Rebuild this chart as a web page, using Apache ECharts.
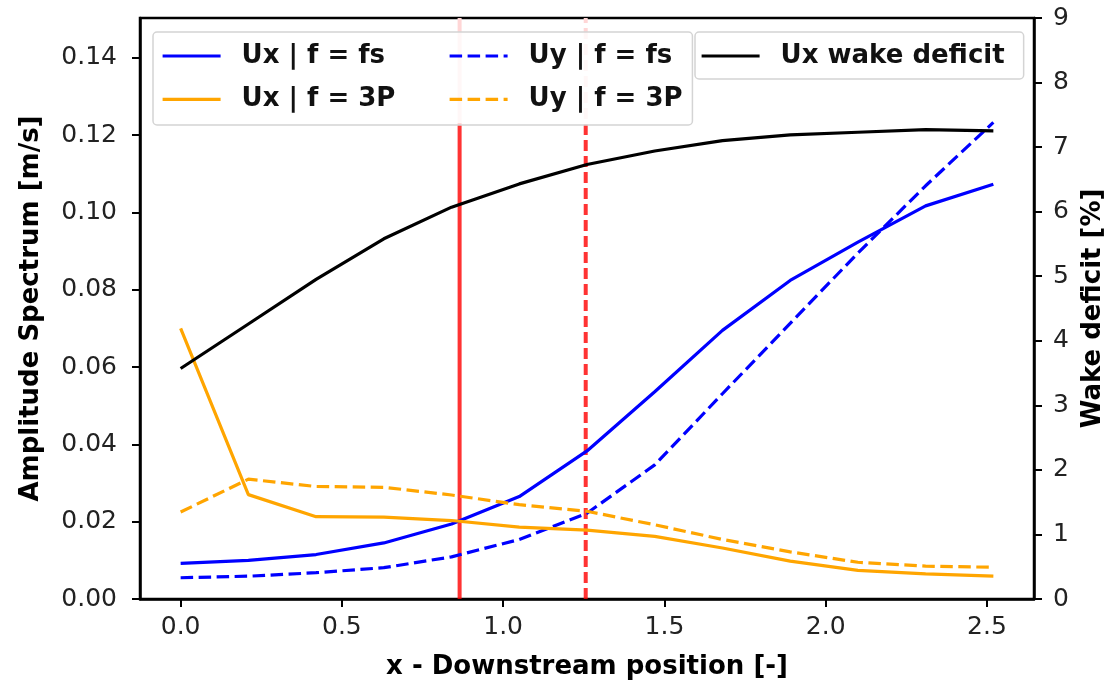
<!DOCTYPE html>
<html>
<head>
<meta charset="utf-8">
<script src="https://cdn.jsdelivr.net/npm/echarts@6/dist/echarts.min.js"></script>
<style>
html,body{margin:0;padding:0;background:#fff;}
#chart{width:1116px;height:685px;}
</style>
</head>
<body>
<div id="chart"></div>
<script>
// ---- data ----
var xPos   = [0, 0.21, 0.42, 0.63, 0.84, 1.05, 1.26, 1.47, 1.68, 1.89, 2.10, 2.31, 2.52];
var uxFs   = [0.0092, 0.0100, 0.0115, 0.0145, 0.0194, 0.0265, 0.0383, 0.0536, 0.0695, 0.0824, 0.0923, 0.1017, 0.1073];
var uyFs   = [0.0055, 0.0059, 0.0068, 0.0081, 0.0109, 0.0154, 0.0222, 0.0347, 0.0531, 0.0713, 0.0895, 0.1069, 0.1233];
var ux3P   = [0.0700, 0.0270, 0.0213, 0.0212, 0.0203, 0.0186, 0.0178, 0.0162, 0.0132, 0.0098, 0.0074, 0.0065, 0.0059];
var uy3P   = [0.0225, 0.0310, 0.0291, 0.0289, 0.0269, 0.0244, 0.0227, 0.0192, 0.0154, 0.0122, 0.0095, 0.0085, 0.0082];
var wakeDeficit = [3.57, 4.26, 4.95, 5.58, 6.07, 6.43, 6.73, 6.94, 7.10, 7.19, 7.23, 7.27, 7.25];
var vLines = [0.865, 1.256];
var xTicks = [0, 0.5, 1.0, 1.5, 2.0, 2.5];
var yLeftTicks = [0, 0.02, 0.04, 0.06, 0.08, 0.10, 0.12, 0.14];
var Y_MAX = 0.1503;

var names = ['Ux | f = fs', 'Uy | f = fs', 'Ux | f = 3P', 'Uy | f = 3P', 'Ux wake deficit'];

function pairs(ys){ return xPos.map(function(x,i){ return [x, ys[i]]; }); }

var FONT = 'DejaVu Sans';
var DASH = [12.5, 5.5];
var LW = 3.2;

var chart = echarts.init(document.getElementById('chart'), null, {renderer:'canvas'});

var legendText = {fontFamily: FONT, fontSize: 26, fontWeight: 'bold', color: '#111', lineHeight: 30, padding: [0,0,0,16]};
function mkLegend(left, data, extra){
  var o = {
    orient: 'vertical', left: left, top: 41, padding: 0,
    itemWidth: 58, itemHeight: 2, itemGap: 13.4,
    itemStyle: {opacity: 0},
    lineStyle: {width: LW},
    textStyle: legendText, data: data, selectedMode: false, z: 120
  };
  for (var k in extra) o[k] = extra[k];
  return o;
}
var boxStyle = {backgroundColor: 'rgba(255,255,255,0.8)', borderColor: '#d4d4d4', borderWidth: 1.5, borderRadius: 4};

// red reference lines: pale where they pass behind the semi-transparent legend box
var redStroke = new echarts.graphic.LinearGradient(0, 0, 0, 1, [
  {offset: 0, color: '#ffd6d6'}, {offset: 0.1835, color: '#ffd6d6'},
  {offset: 0.1836, color: 'rgba(255,0,0,0.8)'}, {offset: 1, color: 'rgba(255,0,0,0.8)'}
]);
function vline(x, type){
  return {type: 'line', yAxisIndex: 0, data: [[x, 0], [x, Y_MAX]], symbol: 'none', silent: true, z: 1,
          lineStyle: {color: redStroke, width: 4, type: type}};
}

var option = {
  animation: false,
  backgroundColor: '#fff',
  grid: {left: 140, right: 82, top: 18, bottom: 84, show: true, borderColor: '#000', borderWidth: 2.5, backgroundColor: 'transparent'},
  legend: [
    mkLegend(153, [names[0], names[2]], Object.assign({top: 32, padding: [9, 297, 10.6, 8], z: 100}, boxStyle)),
    mkLegend(448, [names[1], names[3]], {z: 130}),
    mkLegend(695, [names[4]], Object.assign({top: 32, padding: [9, 19, 8, 5], z: 130}, boxStyle))
  ],
  xAxis: {
    type: 'value', min: -0.126, max: 2.646,
    name: 'x - Downstream position [-]', nameLocation: 'middle', nameGap: 55,
    nameTextStyle: {fontFamily: FONT, fontSize: 26, fontWeight: 'bold', color: '#000'},
    axisLine: {show: true, onZero: false, lineStyle: {color: '#000', width: 2.5}},
    axisTick: {show: true, length: 8, lineStyle: {color: '#000', width: 2}, customValues: xTicks},
    axisLabel: {fontFamily: FONT, fontSize: 25, color: '#222', margin: 16, customValues: xTicks,
      formatter: function(v){ return v.toFixed(1); }},
    splitLine: {show: false}
  },
  yAxis: [
    {
      type: 'value', min: 0, max: Y_MAX, position: 'left',
      name: 'Amplitude Spectrum [m/s]', nameLocation: 'middle', nameGap: 96, nameRotate: 90,
      nameTextStyle: {fontFamily: FONT, fontSize: 26, fontWeight: 'bold', color: '#000'},
      axisLine: {show: true, onZero: false, lineStyle: {color: '#000', width: 2.5}},
      axisTick: {show: true, length: 8, lineStyle: {color: '#000', width: 2}, customValues: yLeftTicks},
      axisLabel: {fontFamily: FONT, fontSize: 25, color: '#222', margin: 23, customValues: yLeftTicks,
        formatter: function(v){ return v.toFixed(2); }},
      splitLine: {show: false}
    },
    {
      type: 'value', min: 0, max: 9, interval: 1, position: 'right',
      name: 'Wake deficit [%]', nameLocation: 'middle', nameGap: 32, nameRotate: 90,
      nameTextStyle: {fontFamily: FONT, fontSize: 26, fontWeight: 'bold', color: '#000'},
      axisLine: {show: true, onZero: false, lineStyle: {color: '#000', width: 2.5}},
      axisTick: {show: true, length: 8, lineStyle: {color: '#000', width: 2}},
      axisLabel: {fontFamily: FONT, fontSize: 25, color: '#222', margin: 19},
      splitLine: {show: false}
    }
  ],
  series: [
    vline(vLines[0], 'solid'),
    vline(vLines[1], [11, 5]),
    {name: names[0], type: 'line', yAxisIndex: 0, data: pairs(uxFs), symbol: 'none',
     lineStyle: {color: '#0000ff', width: LW}, itemStyle: {color: '#0000ff'}},
    {name: names[1], type: 'line', yAxisIndex: 0, data: pairs(uyFs), symbol: 'none',
     lineStyle: {color: '#0000ff', width: LW, type: DASH}, itemStyle: {color: '#0000ff'}},
    {name: names[2], type: 'line', yAxisIndex: 0, data: pairs(ux3P), symbol: 'none',
     lineStyle: {color: '#ffa500', width: LW}, itemStyle: {color: '#ffa500'}},
    {name: names[3], type: 'line', yAxisIndex: 0, data: pairs(uy3P), symbol: 'none',
     lineStyle: {color: '#ffa500', width: LW, type: DASH}, itemStyle: {color: '#ffa500'}},
    {name: names[4], type: 'line', yAxisIndex: 1, data: pairs(wakeDeficit), symbol: 'none',
     lineStyle: {color: '#000', width: LW}, itemStyle: {color: '#000'}}
  ]
};
chart.setOption(option);
</script>
</body>
</html>
